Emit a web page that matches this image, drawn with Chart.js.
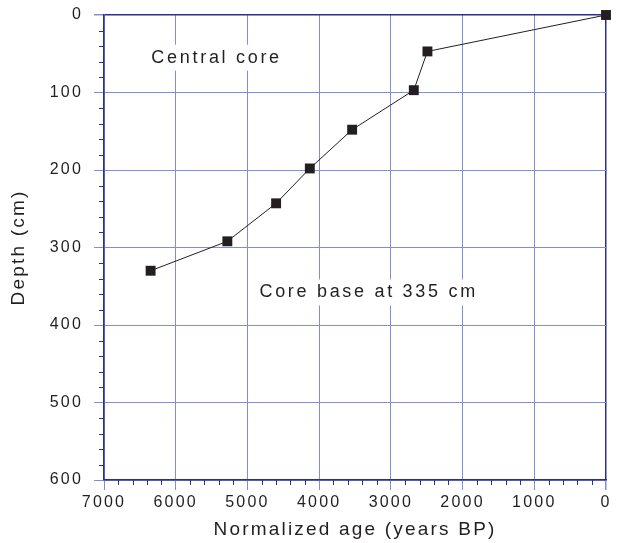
<!DOCTYPE html>
<html>
<head>
<meta charset="utf-8">
<script src="https://cdn.jsdelivr.net/npm/chart.js@4/dist/chart.umd.min.js"></script>
<style>
  html, body { margin: 0; padding: 0; background: #fff; }
  #wrap { width: 618px; height: 543px; }
</style>
</head>
<body>
<div id="wrap"><canvas id="graficoCore"></canvas></div>
<script>
// ages (years BP) and depths (cm)
const idades = [6350, 5280, 4600, 4130, 3540, 2680, 2490, 0];
const profundidades = [330, 292, 243, 198, 148, 97, 47, 0];
const ticksIdade = [7000, 6000, 5000, 4000, 3000, 2000, 1000, 0];
const ticksProfundidade = [0, 100, 200, 300, 400, 500, 600];

const corEixo = "#2b2f8f";
const corGrade = "#7f8ed6";
const corTexto = "#231f20";
const fonte = "'Liberation Sans', Arial, Helvetica, sans-serif";

const pontos = idades.map((idade, i) => ({ x: idade, y: profundidades[i] }));

// small ticks between the labelled ones
const marcasMenores = {
  id: 'marcasMenores',
  afterDraw(chart) {
    const { ctx, scales: { x, y } } = chart;
    ctx.save();
    ctx.strokeStyle = corEixo;
    ctx.lineWidth = 1;
    ctx.beginPath();
    for (let v = 0; v <= 7000; v += 200) {
      if (v % 1000 === 0) continue;
      const px = Math.round(x.getPixelForValue(v)) + 0.5;
      ctx.moveTo(px, y.bottom);
      ctx.lineTo(px, y.bottom + 5);
    }
    for (let v = 0; v <= 600; v += 20) {
      if (v % 100 === 0) continue;
      const py = Math.round(y.getPixelForValue(v)) + 0.5;
      ctx.moveTo(x.left, py);
      ctx.lineTo(x.left - 5, py);
    }
    ctx.stroke();
    ctx.restore();
  }
};

// text labels inside the plot, on a white box
const rotulos = {
  id: 'rotulos',
  beforeDatasetsDraw(chart) {
    const { ctx, scales: { x, y } } = chart;
    const textos = [
      { texto: 'Central core', x: 5430, y: 55 },
      { texto: 'Core base at 335 cm', x: 3310, y: 358 }
    ];
    ctx.save();
    ctx.font = "18px " + fonte;
    ctx.letterSpacing = "2.7px";
    ctx.textAlign = "center";
    ctx.textBaseline = "middle";
    textos.forEach(t => {
      const px = x.getPixelForValue(t.x);
      const py = y.getPixelForValue(t.y);
      const w = ctx.measureText(t.texto).width;
      ctx.fillStyle = "#fff";
      ctx.fillRect(px - w / 2 - 3, py - 13, w + 6, 26);
      ctx.fillStyle = corTexto;
      ctx.fillText(t.texto, px, py);
    });
    ctx.restore();
  }
};

const espacamento = {
  id: 'espacamento',
  beforeDraw(chart) {
    chart.ctx.letterSpacing = "2.2px";
  }
};

const semVirgula = v => String(v);

const graficoCore = new Chart(document.getElementById("graficoCore"), {
  type: 'scatter',
  data: {
    datasets: [{
      label: 'Central core',
      data: pontos,
      showLine: true,
      clip: false,
      borderColor: corTexto,
      borderWidth: 1,
      pointStyle: 'rect',
      pointRadius: 7,
      pointHoverRadius: 7,
      pointBackgroundColor: corTexto,
      pointBorderColor: corTexto,
      pointBorderWidth: 0
    }]
  },
  options: {
    responsive: true,
    maintainAspectRatio: false,
    animation: false,
    layout: { padding: { top: 0, right: 12, left: 0, bottom: 0 } },
    plugins: {
      legend: { display: false },
      tooltip: { enabled: false }
    },
    scales: {
      x: {
        type: 'linear',
        min: 0,
        max: 7000,
        reverse: true,
        afterBuildTicks: scale => {
          scale.ticks = ticksIdade.map(v => ({ value: v }));
        },
        afterFit: scale => { scale.height = 63; },
        ticks: {
          color: corTexto,
          font: { family: fonte, size: 16 },
          padding: 3,
          maxRotation: 0,
          autoSkip: false,
          callback: semVirgula
        },
        grid: {
          color: c => (c.tick && c.tick.value === 0 ? corEixo : corGrade),
          lineWidth: c => (c.tick && c.tick.value === 0 ? 1.5 : 1),
          tickColor: corGrade,
          tickLength: 10
        },
        border: { color: corEixo, width: 1.5 },
        title: {
          display: true,
          text: 'Normalized age (years BP)',
          color: corTexto,
          font: { family: fonte, size: 19 },
          padding: { top: 0, bottom: 2 }
        }
      },
      y: {
        type: 'linear',
        min: 0,
        max: 600,
        reverse: true,
        afterBuildTicks: scale => {
          scale.ticks = ticksProfundidade.map(v => ({ value: v }));
        },
        afterFit: scale => {
          scale.width = 104;
          scale.paddingTop = 15;
          scale.paddingBottom = 0;
        },
        ticks: {
          color: corTexto,
          font: { family: fonte, size: 16 },
          padding: 11,
          autoSkip: false,
          callback: semVirgula
        },
        grid: {
          color: c => (c.tick && c.tick.value === 0 ? corEixo : corGrade),
          lineWidth: c => (c.tick && c.tick.value === 0 ? 1.5 : 1),
          tickColor: corGrade,
          tickLength: 10
        },
        border: { color: corEixo, width: 1.5 },
        title: {
          display: true,
          text: 'Depth (cm)',
          color: corTexto,
          font: { family: fonte, size: 19 },
          padding: { top: 7, bottom: 0 }
        }
      }
    }
  },
  plugins: [espacamento, rotulos, marcasMenores]
});
</script>
</body>
</html>
